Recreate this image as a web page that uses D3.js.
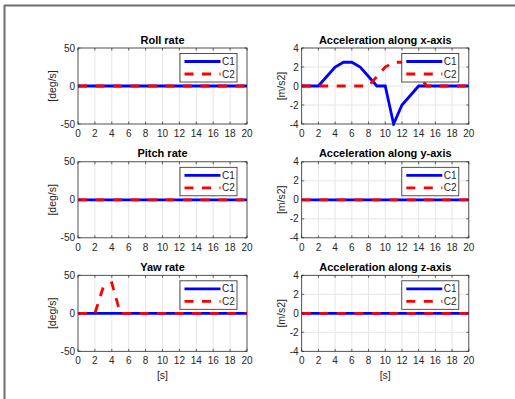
<!DOCTYPE html>
<html>
<head>
<meta charset="utf-8">
<script src="https://cdn.jsdelivr.net/npm/d3@7"></script>
<style>
  html, body { margin: 0; padding: 0; background: #fff; }
  svg { display: block; font-family: "Liberation Sans", Arial, Helvetica, sans-serif; }
</style>
</head>
<body>
<svg id="fig" width="515" height="399"></svg>
<script>
// Time samples [s]
const time = [0, 1, 2, 3, 4, 5, 6, 7, 8, 9, 10, 11, 12, 13, 14, 15, 16, 17, 18, 19, 20];

// Angular rates [deg/s]
const rollC1  = [0, 0, 0, 0, 0, 0, 0, 0, 0, 0, 0, 0, 0, 0, 0, 0, 0, 0, 0, 0, 0];
const rollC2  = [0, 0, 0, 0, 0, 0, 0, 0, 0, 0, 0, 0, 0, 0, 0, 0, 0, 0, 0, 0, 0];
const pitchC1 = [0, 0, 0, 0, 0, 0, 0, 0, 0, 0, 0, 0, 0, 0, 0, 0, 0, 0, 0, 0, 0];
const pitchC2 = [0, 0, 0, 0, 0, 0, 0, 0, 0, 0, 0, 0, 0, 0, 0, 0, 0, 0, 0, 0, 0];
const yawC1   = [0, 0, 0, 0, 0, 0, 0, 0, 0, 0, 0, 0, 0, 0, 0, 0, 0, 0, 0, 0, 0];
const yawC2   = [0, 0, 0, 35, 40, 0, 0, 0, 0, 0, 0, 0, 0, 0, 0, 0, 0, 0, 0, 0, 0];

// Linear accelerations [m/s2]
const accXC1 = [0, 0, 0, 1, 2, 2.5, 2.5, 2, 1, 0, 0, -4, -2, -1, 0, 0, 0, 0, 0, 0, 0];
const accXC2 = [0, 0, 0, 0, 0, 0, 0, 0, 0, 1, 2, 2.5, 2.5, 2, 1, 0, 0, 0, 0, 0, 0];
const accYC1 = [0, 0, 0, 0, 0, 0, 0, 0, 0, 0, 0, 0, 0, 0, 0, 0, 0, 0, 0, 0, 0];
const accYC2 = [0, 0, 0, 0, 0, 0, 0, 0, 0, 0, 0, 0, 0, 0, 0, 0, 0, 0, 0, 0, 0];
const accZC1 = [0, 0, 0, 0, 0, 0, 0, 0, 0, 0, 0, 0, 0, 0, 0, 0, 0, 0, 0, 0, 0];
const accZC2 = [0, 0, 0, 0, 0, 0, 0, 0, 0, 0, 0, 0, 0, 0, 0, 0, 0, 0, 0, 0, 0];

// Tick labels
const xTicks = [0, 2, 4, 6, 8, 10, 12, 14, 16, 18, 20];
const rateTicks = [-50, 0, 50];
const accTicks = [-4, -2, 0, 2, 4];

const seriesNames = ["C1", "C2"];
const titles = ["Roll rate", "Acceleration along x-axis",
                "Pitch rate", "Acceleration along y-axis",
                "Yaw rate", "Acceleration along z-axis"];
const yLabels = ["[deg/s]", "[m/s2]"];
const xLabel = "[s]";

const panels = [
  { title: titles[0], c1: rollC1,  c2: rollC2,  ticks: rateTicks, ylab: yLabels[0], col: 0, row: 0 },
  { title: titles[1], c1: accXC1,  c2: accXC2,  ticks: accTicks,  ylab: yLabels[1], col: 1, row: 0 },
  { title: titles[2], c1: pitchC1, c2: pitchC2, ticks: rateTicks, ylab: yLabels[0], col: 0, row: 1 },
  { title: titles[3], c1: accYC1,  c2: accYC2,  ticks: accTicks,  ylab: yLabels[1], col: 1, row: 1 },
  { title: titles[4], c1: yawC1,   c2: yawC2,   ticks: rateTicks, ylab: yLabels[0], col: 0, row: 2 },
  { title: titles[5], c1: accZC1,  c2: accZC2,  ticks: accTicks,  ylab: yLabels[1], col: 1, row: 2 }
];

// Subplot geometry
const colX = [[78, 247], [301.7, 468.8]];
const rowY = [[48, 124], [161.8, 237.8], [275.3, 351.3]];
const axisColor = "#262626";
const gridColor = "#e6e6e6";

const svg = d3.select("#fig");

// Figure frame (top and left edges)
svg.append("line").attr("x1", 4).attr("x2", 515).attr("y1", 5.5).attr("y2", 5.5)
  .attr("stroke", "#6e6e6e").attr("stroke-width", 2);
svg.append("line").attr("x1", 4.5).attr("x2", 4.5).attr("y1", 5).attr("y2", 399)
  .attr("stroke", "#6e6e6e").attr("stroke-width", 2);

panels.forEach(p => {
  const [x0, x1] = colX[p.col];
  const [y0, y1] = rowY[p.row];
  const x = d3.scaleLinear().domain([0, 20]).range([x0, x1]);
  const yMax = d3.max(p.ticks);
  const y = d3.scaleLinear().domain([-yMax, yMax]).range([y1, y0]);

  const g = svg.append("g");

  // axes background
  g.append("rect").attr("x", x0).attr("y", y0).attr("width", x1 - x0).attr("height", y1 - y0)
    .attr("fill", "#fff");

  // grid
  g.append("g").selectAll("line").data(xTicks.filter(t => t > 0 && t < 20)).join("line")
    .attr("x1", d => x(d)).attr("x2", d => x(d)).attr("y1", y0).attr("y2", y1)
    .attr("stroke", gridColor).attr("stroke-width", 1);
  g.append("g").selectAll("line").data(p.ticks.filter(t => Math.abs(t) < yMax)).join("line")
    .attr("x1", x0).attr("x2", x1).attr("y1", d => y(d)).attr("y2", d => y(d))
    .attr("stroke", gridColor).attr("stroke-width", 1);

  // data lines
  const clipId = "clip" + p.col + p.row;
  svg.append("clipPath").attr("id", clipId).append("rect")
    .attr("x", x0).attr("y", y0 - 2).attr("width", x1 - x0).attr("height", y1 - y0 + 4);
  const line = d3.line().x((d, i) => x(time[i])).y(d => y(d));
  const lines = g.append("g").attr("clip-path", `url(#${clipId})`);
  lines.append("path").datum(p.c1).attr("d", line)
    .attr("fill", "none").attr("stroke", "#0000ff").attr("stroke-width", 2.8)
    .attr("stroke-linejoin", "miter");
  lines.append("path").datum(p.c2).attr("d", line)
    .attr("fill", "none").attr("stroke", "#ff0000").attr("stroke-width", 2.8)
    .attr("stroke-dasharray", "9,8.5");

  // inward ticks on all four sides
  const tl = 2.5;
  const tk = g.append("g").attr("stroke", axisColor).attr("stroke-width", 0.7);
  xTicks.forEach(t => {
    tk.append("line").attr("x1", x(t)).attr("x2", x(t)).attr("y1", y1).attr("y2", y1 - tl);
    tk.append("line").attr("x1", x(t)).attr("x2", x(t)).attr("y1", y0).attr("y2", y0 + tl);
  });
  p.ticks.forEach(t => {
    tk.append("line").attr("x1", x0).attr("x2", x0 + tl).attr("y1", y(t)).attr("y2", y(t));
    tk.append("line").attr("x1", x1).attr("x2", x1 - tl).attr("y1", y(t)).attr("y2", y(t));
  });

  // box
  g.append("rect").attr("x", x0).attr("y", y0).attr("width", x1 - x0).attr("height", y1 - y0)
    .attr("fill", "none").attr("stroke", axisColor).attr("stroke-width", 0.8);

  // tick labels
  g.append("g").selectAll("text").data(xTicks).join("text")
    .attr("x", d => x(d)).attr("y", y1 + 13).attr("text-anchor", "middle")
    .attr("font-size", 10).attr("fill", axisColor).text(d => d);
  g.append("g").selectAll("text").data(p.ticks).join("text")
    .attr("x", x0 - 3).attr("y", d => y(d) + 3.5).attr("text-anchor", "end")
    .attr("font-size", 10).attr("fill", axisColor).text(d => d);

  // title
  g.append("text").attr("x", (x0 + x1) / 2).attr("y", y0 - 4.5).attr("text-anchor", "middle")
    .attr("font-size", 11).attr("font-weight", "bold").attr("fill", "#000").text(p.title);

  // y label
  const ylx = p.col === 0 ? 55.5 : 284.5;
  g.append("text").attr("transform", `translate(${ylx},${(y0 + y1) / 2}) rotate(-90)`)
    .attr("text-anchor", "middle").attr("font-size", 10.5).attr("fill", axisColor).text(p.ylab);

  // x label on bottom row
  if (p.row === 2) {
    g.append("text").attr("x", (x0 + x1) / 2).attr("y", y1 + 28).attr("text-anchor", "middle")
      .attr("font-size", 10.5).attr("fill", axisColor).text(xLabel);
  }

  // legend
  const lw = 57, lh = 28.5;
  const lx = x1 - 10 - lw, ly = y0 + 5.5;
  const lg = g.append("g");
  lg.append("rect").attr("x", lx).attr("y", ly).attr("width", lw).attr("height", lh)
    .attr("fill", "#fff").attr("stroke", axisColor).attr("stroke-width", 0.8);
  const rows = [ly + 8, ly + 20.5];
  lg.append("line").attr("x1", lx + 4.5).attr("x2", lx + 40.5).attr("y1", rows[0]).attr("y2", rows[0])
    .attr("stroke", "#0000ff").attr("stroke-width", 2.8);
  lg.append("line").attr("x1", lx + 4.5).attr("x2", lx + 40.5).attr("y1", rows[1]).attr("y2", rows[1])
    .attr("stroke", "#ff0000").attr("stroke-width", 2.8).attr("stroke-dasharray", "9,8.5");
  seriesNames.forEach((s, i) => {
    lg.append("text").attr("x", lx + 42).attr("y", rows[i] + 3.5)
      .attr("font-size", 10).attr("fill", axisColor).text(s);
  });
});
</script>
</body>
</html>
